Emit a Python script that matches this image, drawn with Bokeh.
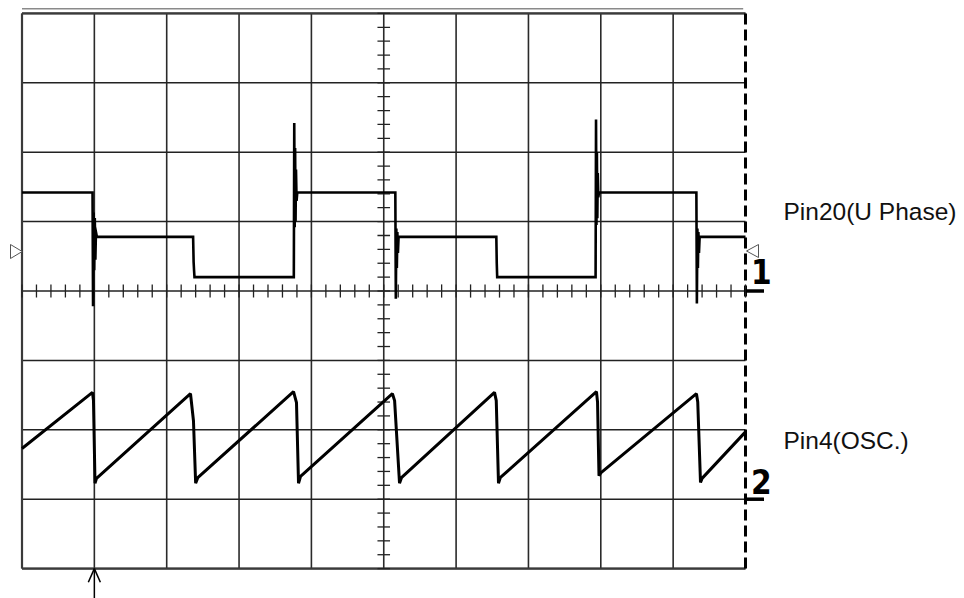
from bokeh.plotting import figure
from bokeh.models import Range1d
from bokeh.core.properties import value
from bokeh.embed import file_html
from bokeh.resources import INLINE

# ---- scope screen layout (pixels per division, screen origin) ----
PX_DIV = 72.35
PY_DIV = 69.4
X0_PX = 21.5
Y0_PX = 290.5
W, H = 964, 598
N_HDIV = 10
N_VDIV = 4          # divisions above / below the centre line

# ---- channel 1: Pin20 (U phase) trace, time in divisions, level in divisions ----
ch1_t = [0.000, 0.975, 0.982, 0.990, 0.998, 1.006, 1.014, 1.022, 1.035,
         2.365, 2.372, 2.378, 2.384,
         3.757, 3.763, 3.769, 3.775, 3.781, 3.787, 3.795, 3.805,
         5.160, 5.167, 5.174, 5.181, 5.188, 5.196, 5.205,
         6.556, 6.562, 6.568,
         7.928, 7.934, 7.940, 7.946, 7.952, 7.958, 7.966, 7.975,
         9.321, 9.328, 9.335, 9.342, 9.349, 9.357, 9.366, 10.000]
ch1_v = [1.42, 1.42, -0.22, 1.13, 0.30, 1.05, 0.45, 0.85, 0.78,
         0.78, 0.42, 0.30, 0.20,
         0.20, 2.42, 0.92, 2.06, 1.00, 1.75, 1.30, 1.42,
         1.42, -0.11, 0.90, 0.33, 0.85, 0.55, 0.78,
         0.78, 0.40, 0.20,
         0.20, 2.47, 0.95, 2.00, 1.05, 1.70, 1.35, 1.42,
         1.42, -0.18, 0.90, 0.33, 0.85, 0.55, 0.78, 0.78]

# ---- channel 2: Pin4 (OSC.) sawtooth ----
ch2_t = [0.000, 0.974, 0.988, 1.009, 1.030,
         2.329, 2.370, 2.400, 2.430,
         3.753, 3.794, 3.822, 3.850,
         5.120, 5.150, 5.218, 5.245,
         6.531, 6.555, 6.586, 6.610,
         7.940, 7.955, 7.975, 8.000,
         9.322, 9.340, 9.378, 9.400, 10.000]
ch2_v = [-2.27, -1.46, -1.58, -2.77, -2.70,
         -1.48, -1.87, -2.77, -2.69,
         -1.45, -1.61, -2.77, -2.67,
         -1.48, -1.58, -2.77, -2.69,
         -1.46, -1.58, -2.77, -2.69,
         -1.45, -1.60, -2.66, -2.62,
         -1.48, -1.60, -2.76, -2.70, -2.03]

labels = ["Pin20(U Phase)", "Pin4(OSC.)"]
label_levels = [1.14, -2.16]
ch_numbers = ["1", "2"]
ch_offsets = [0.0, -3.0]


def tx(px):
    return (px - X0_PX) / PX_DIV


def ty(py):
    return (Y0_PX - py) / PY_DIV


p = figure(width=W, height=H, output_backend="svg", toolbar_location=None,
           x_axis_type=None, y_axis_type=None, min_border=0,
           x_range=Range1d(tx(0), tx(W)), y_range=Range1d(ty(H), ty(0)))
p.outline_line_color = None
p.background_fill_color = "white"
p.border_fill_color = "white"

# graticule
vx = list(range(0, N_HDIV))
p.segment(x0=vx, y0=[-N_VDIV] * len(vx), x1=vx, y1=[N_VDIV] * len(vx),
          line_color="#2a2a2a", line_width=1.6)
hy = list(range(-N_VDIV, N_VDIV + 1))
p.segment(x0=[0] * len(hy), y0=hy, x1=[N_HDIV] * len(hy), y1=hy,
          line_color="#222222", line_width=1.5)
# heavier frame edges
p.segment(x0=[0, 0, 0], y0=[-N_VDIV, N_VDIV, -N_VDIV], x1=[0, N_HDIV, N_HDIV],
          y1=[N_VDIV, N_VDIV, -N_VDIV], line_color="#3a3a3a", line_width=2.2)
# dashed right edge
p.line(x=[N_HDIV, N_HDIV], y=[-N_VDIV, N_VDIV], line_color="black",
       line_width=3, line_dash="11 5")
# thin rule above the screen
p.line(x=[0, tx(742.7)], y=[ty(8.3), ty(8.3)], line_color="#8a8a8a", line_width=1.5)

# minor ticks on the centre axes
mt = [k * 0.2 for k in range(0, N_HDIV * 5 + 1)]
p.segment(x0=mt, y0=[-0.095] * len(mt), x1=mt, y1=[0.095] * len(mt),
          line_color="#222222", line_width=1.3)
mv = [-N_VDIV + k * 0.2 for k in range(0, 2 * N_VDIV * 5 + 1)]
p.segment(x0=[5 - 0.087] * len(mv), y0=mv, x1=[5 + 0.087] * len(mv), y1=mv,
          line_color="#222222", line_width=1.3)

# traces
p.line(x=ch1_t, y=ch1_v, line_color="black", line_width=2.6, line_join="miter")
p.line(x=ch2_t, y=ch2_v, line_color="black", line_width=3.0)

# ground-level markers
p.patch(x=[tx(10), tx(21.7), tx(10)], y=[ty(244), ty(251), ty(258)],
        fill_color="white", line_color="#555555", line_width=1)
p.patch(x=[tx(758), tx(746), tx(758)], y=[ty(244), ty(250.5), ty(257)],
        fill_color="white", line_color="#555555", line_width=1)

# channel reference bars and numbers
p.segment(x0=[N_HDIV] * 2, y0=ch_offsets, x1=[tx(763.5)] * 2, y1=ch_offsets,
          line_color="black", line_width=3.5)
p.text(x=[tx(750.5)] * 2, y=[ty(271), ty(481)], text=ch_numbers,
       text_font=value("'Liberation Sans Narrow', 'DejaVu Sans Condensed', 'Liberation Sans', sans-serif"),
       text_font_style="bold",
       text_font_size="33px", text_baseline="alphabetic", text_align="left",
       text_color="black")

# trigger position arrow
p.segment(x0=[1.0], y0=[-N_VDIV], x1=[1.0], y1=[ty(H)], line_color="black", line_width=1.5)
p.segment(x0=[1.0, 1.0], y0=[-N_VDIV, -N_VDIV], x1=[1.0 - 0.083, 1.0 + 0.083],
          y1=[ty(581.7), ty(581.7)], line_color="black", line_width=1.5)

# channel names
p.text(x=[tx(783)] * 2, y=label_levels, text=labels,
       text_font=value("Liberation Sans"), text_font_size="24.5px",
       text_baseline="alphabetic", text_align="left", text_color="#111111")

open("out.html", "w").write(file_html(p, INLINE))
